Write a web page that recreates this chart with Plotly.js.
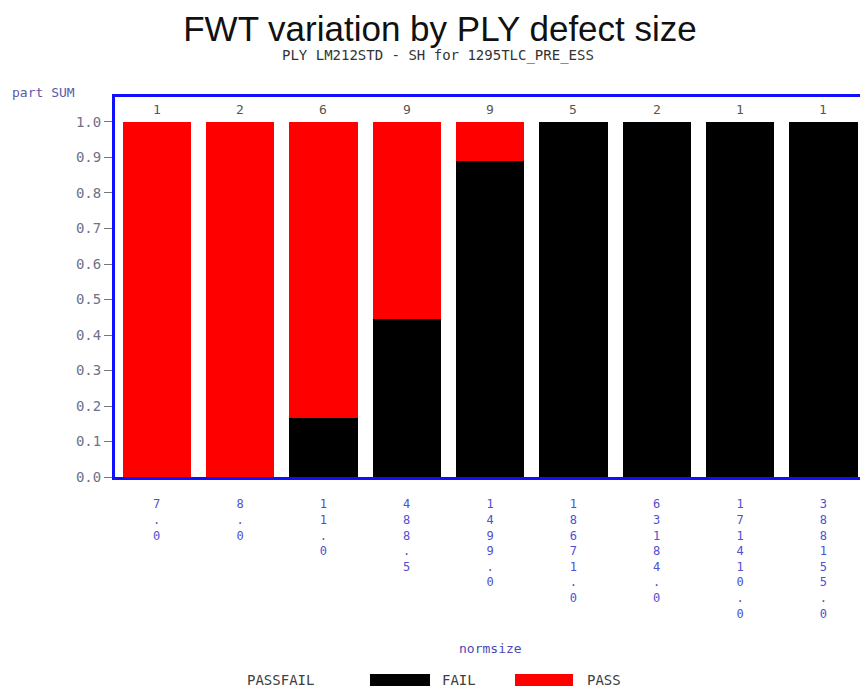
<!DOCTYPE html>
<html>
<head>
<meta charset="utf-8">
<script src="https://cdn.plot.ly/plotly-3.0.1.min.js"></script>
<style>html,body{margin:0;padding:0;background:#fff;}#chart{width:860px;height:691px;}</style>
</head>
<body>
<div id="chart"></div>
<script>
// ---- data ----
var categories = ["7.0","8.0","11.0","488.5","1499.0","18671.0","63184.0","171410.0","388155.0"];
var failFrac = [0, 0, 0.1667, 0.4444, 0.8889, 1, 1, 1, 1];
var passFrac = [1, 1, 0.8333, 0.5556, 0.1111, 0, 0, 0, 0];
var counts = [1, 2, 6, 9, 9, 5, 2, 1, 1];
var seriesNames = ["FAIL", "PASS"];
var seriesColors = ["#000000", "#ff0000"];
var yTicks = [0, 0.1, 0.2, 0.3, 0.4, 0.5, 0.6, 0.7, 0.8, 0.9, 1.0];

// ---- layout geometry ----
var W = 860, H = 691;
var L = 115, R = 0, T = 97, B = 214;
var plotW = W - L - R, plotH = H - T - B;
function px(x){ return (x - L) / plotW; }
function py(y){ return (H - B - y) / plotH; }

var xIdx = categories.map(function(_, i){ return i; });
var tickText = categories.map(function(c){ return c.split("").join("<br>"); });

var traces = [
  {type: "bar", name: seriesNames[0], x: xIdx, y: failFrac, marker: {color: seriesColors[0], line: {width: 0}}, hoverinfo: "skip"},
  {type: "bar", name: seriesNames[1], x: xIdx, y: passFrac, marker: {color: seriesColors[1], line: {width: 0}}, hoverinfo: "skip"}
];

var annotations = [];
counts.forEach(function(c, i){
  annotations.push({x: i, y: 1.035, xref: "x", yref: "y", text: String(c), showarrow: false,
    font: {family: "DejaVu Sans Mono", size: 13, color: "#555555"}, yanchor: "middle"});
});
annotations.push({x: px(438), y: py(55), xref: "paper", yref: "paper", yanchor: "middle", xanchor: "center",
  text: "PLY LM212STD - SH for 1295TLC_PRE_ESS", showarrow: false,
  font: {family: "DejaVu Sans Mono", size: 14, color: "#333333"}});
annotations.push({x: px(10), y: py(92), xref: "paper", yref: "paper", xanchor: "left", yanchor: "middle",
  text: "part SUM", showarrow: false, font: {family: "DejaVu Sans Mono", size: 13, color: "#5a5aa8"}});
annotations.push({x: px(490), y: py(648), xref: "paper", yref: "paper", xanchor: "center", yanchor: "middle",
  text: "normsize", showarrow: false, font: {family: "DejaVu Sans Mono", size: 13, color: "#4a4ab8"}});
// legend
annotations.push({x: px(245), y: py(680), xref: "paper", yref: "paper", xanchor: "left", yanchor: "middle",
  text: "PASSFAIL", showarrow: false, font: {family: "DejaVu Sans Mono", size: 14, color: "#404040"}});
annotations.push({x: px(440), y: py(680), xref: "paper", yref: "paper", xanchor: "left", yanchor: "middle",
  text: seriesNames[0], showarrow: false, font: {family: "DejaVu Sans Mono", size: 14, color: "#404040"}});
annotations.push({x: px(585), y: py(680), xref: "paper", yref: "paper", xanchor: "left", yanchor: "middle",
  text: seriesNames[1], showarrow: false, font: {family: "DejaVu Sans Mono", size: 14, color: "#404040"}});

var shapes = [
  {type: "rect", xref: "paper", yref: "paper", x0: px(370), x1: px(430), y0: py(686), y1: py(674),
   fillcolor: seriesColors[0], line: {width: 0}},
  {type: "rect", xref: "paper", yref: "paper", x0: px(515), x1: px(573), y0: py(686), y1: py(674),
   fillcolor: seriesColors[1], line: {width: 0}}
];

var layout = {
  width: W, height: H,
  margin: {l: L, r: R, t: T, b: B, pad: 0},
  paper_bgcolor: "#ffffff", plot_bgcolor: "#ffffff",
  barmode: "stack", bargap: 0.18,
  showlegend: false,
  title: {text: "FWT variation by PLY defect size", x: 440 / W, xanchor: "center", y: 1 - 29 / H, yanchor: "middle",
    font: {family: "Liberation Sans", size: 35, color: "#111111"}},
  xaxis: {
    range: [-0.5, 8.44], tickvals: xIdx, ticktext: tickText, ticks: "",
    ticklabelstandoff: 14,
    showgrid: false, zeroline: false, showline: true, mirror: true, linecolor: "#1010ff", linewidth: 3,
    tickfont: {family: "DejaVu Sans Mono", size: 12, color: "#5050d0"}, fixedrange: true
  },
  yaxis: {
    range: [0, 1.0704], tickvals: yTicks, ticktext: yTicks.map(function(v){ return v.toFixed(1); }),
    ticks: "outside", ticklen: 8, tickwidth: 1, tickcolor: "#777777",
    showgrid: false, zeroline: false, showline: true, linecolor: "#1010ff", linewidth: 3,
    tickfont: {family: "DejaVu Sans Mono", size: 14, color: "#70708a"}, fixedrange: true
  },
  annotations: annotations,
  shapes: shapes
};

Plotly.newPlot("chart", traces, layout, {displayModeBar: false, staticPlot: true});
</script>
</body>
</html>
